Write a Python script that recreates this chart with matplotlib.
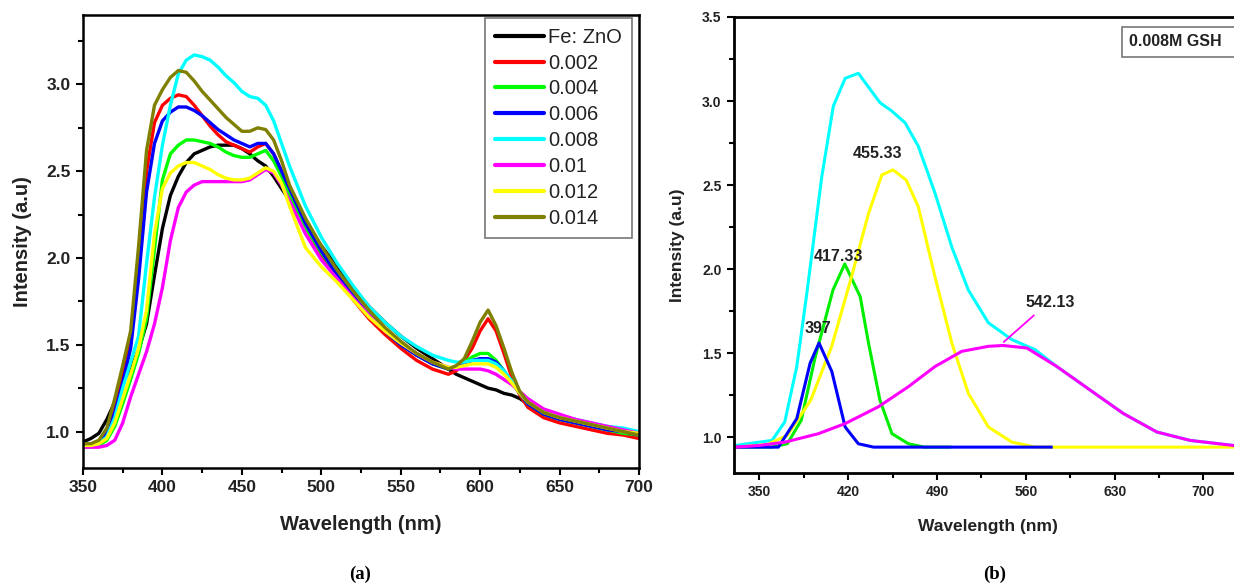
import matplotlib
matplotlib.use("Agg")
import matplotlib.pyplot as plt
from matplotlib.ticker import MultipleLocator
from matplotlib.patches import Rectangle

plt.rcParams['font.family'] = ['Liberation Sans', 'DejaVu Sans']

# ---------------- Panel (a) data ----------------
wl_a = [350, 355, 360, 365, 370, 375, 380, 385, 390, 395, 400, 405, 410, 415, 420, 425,
        430, 435, 440, 445, 450, 455, 460, 465, 470, 475, 480, 490, 500, 510, 520, 530,
        540, 550, 560, 570, 580, 585, 590, 595, 600, 605, 610, 615, 620, 625, 630, 640,
        650, 660, 670, 680, 690, 700]

fe_zno = [0.94, 0.96, 0.99, 1.07, 1.17, 1.28, 1.37, 1.47, 1.62, 1.90, 2.17, 2.36, 2.47, 2.55, 2.60, 2.62,
          2.64, 2.65, 2.65, 2.65, 2.63, 2.60, 2.56, 2.53, 2.47, 2.40, 2.33, 2.21, 2.07, 1.95, 1.83, 1.72,
          1.63, 1.55, 1.48, 1.42, 1.36, 1.33, 1.31, 1.29, 1.27, 1.25, 1.24, 1.22, 1.21, 1.19, 1.16, 1.12,
          1.09, 1.06, 1.04, 1.02, 1.00, 0.99]
s_0002 = [0.92, 0.92, 0.94, 1.00, 1.14, 1.32, 1.52, 1.98, 2.50, 2.78, 2.88, 2.92, 2.94, 2.93, 2.88, 2.82,
          2.76, 2.71, 2.67, 2.65, 2.63, 2.61, 2.64, 2.66, 2.60, 2.50, 2.38, 2.18, 2.02, 1.88, 1.76, 1.65,
          1.56, 1.48, 1.41, 1.36, 1.33, 1.35, 1.41, 1.48, 1.58, 1.65, 1.58, 1.45, 1.31, 1.21, 1.14, 1.08,
          1.05, 1.03, 1.01, 0.99, 0.98, 0.96]
s_0004 = [0.91, 0.91, 0.92, 0.95, 1.03, 1.16, 1.30, 1.45, 1.65, 2.05, 2.45, 2.60, 2.65, 2.68, 2.68, 2.67,
          2.66, 2.64, 2.61, 2.59, 2.58, 2.58, 2.60, 2.62, 2.56, 2.47, 2.37, 2.18, 2.03, 1.90, 1.78, 1.67,
          1.58, 1.50, 1.44, 1.39, 1.36, 1.37, 1.40, 1.43, 1.45, 1.45, 1.41, 1.35, 1.28, 1.22, 1.16, 1.10,
          1.07, 1.05, 1.03, 1.01, 0.99, 0.98]
s_0006 = [0.92, 0.92, 0.94, 0.99, 1.11, 1.28, 1.48, 1.88, 2.38, 2.66, 2.79, 2.84, 2.87, 2.87, 2.85, 2.82,
          2.78, 2.74, 2.71, 2.68, 2.66, 2.64, 2.66, 2.66, 2.60, 2.50, 2.40, 2.20, 2.04, 1.90, 1.78, 1.67,
          1.58, 1.50, 1.44, 1.39, 1.36, 1.37, 1.39, 1.41, 1.42, 1.42, 1.40, 1.35, 1.28, 1.22, 1.16, 1.10,
          1.07, 1.05, 1.03, 1.01, 1.00, 0.98]
s_0008 = [0.92, 0.92, 0.93, 0.97, 1.08, 1.25, 1.40, 1.55, 1.97, 2.35, 2.65, 2.88, 3.06, 3.14, 3.17, 3.16,
          3.14, 3.10, 3.05, 3.01, 2.96, 2.93, 2.92, 2.88, 2.79, 2.66, 2.53, 2.30, 2.12, 1.97, 1.84, 1.72,
          1.63, 1.55, 1.49, 1.44, 1.41, 1.40, 1.40, 1.41, 1.41, 1.41, 1.39, 1.35, 1.29, 1.23, 1.17, 1.12,
          1.09, 1.07, 1.05, 1.03, 1.02, 1.00]
s_001 = [0.91, 0.91, 0.91, 0.92, 0.95, 1.05, 1.20, 1.33, 1.46, 1.62, 1.83, 2.10, 2.29, 2.38, 2.42, 2.44,
         2.44, 2.44, 2.44, 2.44, 2.44, 2.45, 2.48, 2.51, 2.49, 2.42, 2.33, 2.14, 1.99, 1.88, 1.77, 1.67,
         1.58, 1.51, 1.45, 1.40, 1.37, 1.36, 1.36, 1.36, 1.36, 1.35, 1.33, 1.30, 1.27, 1.23, 1.19, 1.13,
         1.10, 1.07, 1.05, 1.03, 1.01, 0.99]
s_0012 = [0.92, 0.92, 0.93, 0.96, 1.05, 1.19, 1.33, 1.48, 1.70, 2.14, 2.40, 2.49, 2.53, 2.55, 2.55, 2.53,
          2.51, 2.48, 2.46, 2.45, 2.45, 2.46, 2.49, 2.52, 2.50, 2.43, 2.30, 2.06, 1.95, 1.86, 1.76, 1.66,
          1.58, 1.51, 1.45, 1.40, 1.37, 1.37, 1.38, 1.39, 1.39, 1.39, 1.37, 1.33, 1.28, 1.22, 1.17, 1.11,
          1.08, 1.06, 1.04, 1.02, 1.00, 0.99]
s_0014 = [0.93, 0.93, 0.95, 1.02, 1.19, 1.38, 1.58, 2.07, 2.62, 2.88, 2.97, 3.04, 3.08, 3.07, 3.02, 2.96,
          2.91, 2.86, 2.81, 2.77, 2.73, 2.73, 2.75, 2.74, 2.68, 2.56, 2.42, 2.23, 2.07, 1.93, 1.81, 1.70,
          1.60, 1.52, 1.45, 1.40, 1.36, 1.38, 1.42, 1.52, 1.63, 1.70, 1.61, 1.48, 1.34, 1.23, 1.17, 1.11,
          1.08, 1.06, 1.04, 1.02, 1.00, 0.98]

labels_a = ['Fe: ZnO', '0.002', '0.004', '0.006', '0.008', '0.01', '0.012', '0.014']
colors_a = ['#000000', '#ff0000', '#00ff00', '#0000ff', '#00ffff', '#ff00ff', '#ffff00', '#808000']
series_a = [fe_zno, s_0002, s_0004, s_0006, s_0008, s_001, s_0012, s_0014]

# ---------------- Panel (b) data ----------------
wl_cyan = [331, 360, 370, 379.5, 387.4, 399.2, 408.3, 417.6, 428, 445.1, 454.4, 464.9, 475.3,
           488.5, 501.7, 514.7, 530.5, 549, 567.3, 584.4, 610.6, 636.9, 663.3, 689.5, 723.4, 730]
int_cyan = [0.95, 0.98, 1.09, 1.42, 1.855, 2.55, 2.97, 3.135, 3.165, 2.99, 2.94, 2.87, 2.73,
            2.45, 2.13, 1.875, 1.68, 1.58, 1.52, 1.42, 1.28, 1.14, 1.03, 0.98, 0.95, 0.95]

wl_blue = [331, 365, 379.5, 390, 397, 407.1, 417.6, 428, 440, 580]
int_blue = [0.94, 0.94, 1.11, 1.44, 1.56, 1.39, 1.06, 0.96, 0.94, 0.94]

wl_green = [331, 360, 372, 383, 393.5, 408, 417.3, 429.5, 436, 445, 454.5, 467.5, 480, 500]
int_green = [0.94, 0.94, 0.96, 1.10, 1.46, 1.875, 2.03, 1.835, 1.56, 1.22, 1.02, 0.96, 0.94, 0.94]

wl_yellow = [331, 356, 372, 390.5, 407, 422.5, 436, 446.5, 455.3, 465.7, 475.3, 488.5, 501.7,
             514.7, 530.5, 549, 567.3, 730]
int_yellow = [0.94, 0.955, 1.01, 1.22, 1.54, 1.95, 2.33, 2.56, 2.59, 2.53, 2.37, 1.95, 1.56,
              1.26, 1.06, 0.97, 0.94, 0.94]

wl_mag = [331, 350, 370.3, 396.5, 417.6, 443.8, 467.5, 488.5, 509.5, 530.5, 542, 560.8, 584.4,
          610.6, 636.9, 663.3, 689.5, 723.4, 730]
int_mag = [0.94, 0.95, 0.97, 1.02, 1.08, 1.18, 1.30, 1.42, 1.51, 1.54, 1.545, 1.53, 1.42,
           1.28, 1.14, 1.03, 0.98, 0.95, 0.95]

peak_labels = ['397', '417.33', '455.33', '542.13']
peak_label_pos = [(396, 1.645), (412, 2.075), (443, 2.685), (579, 1.80)]

# ---------------- Figure ----------------
fig = plt.figure(figsize=(12.34, 5.83), dpi=100)

# Panel (a)
ax1 = fig.add_axes([83 / 1234, 1 - 468 / 583, (639 - 83) / 1234, (468 - 15) / 583])
for y, c, lab in zip(series_a, colors_a, labels_a):
    ax1.plot(wl_a, y, color=c, lw=2.4, label=lab, solid_joinstyle='round', solid_capstyle='round')
ax1.set_xlim(350, 700)
ax1.set_ylim(0.79, 3.4)
ax1.xaxis.set_major_locator(MultipleLocator(50))
ax1.xaxis.set_minor_locator(MultipleLocator(25))
ax1.yaxis.set_major_locator(MultipleLocator(0.5))
ax1.yaxis.set_minor_locator(MultipleLocator(0.25))
ax1.yaxis.set_major_formatter(matplotlib.ticker.FormatStrFormatter('%.1f'))
ax1.tick_params(which='both', direction='out', top=False, right=False, width=1.5)
ax1.tick_params(which='major', length=5, labelsize=12.5, pad=4)
ax1.tick_params(which='minor', length=3.5)
for lbl in ax1.get_xticklabels() + ax1.get_yticklabels():
    lbl.set_fontweight('bold')
    lbl.set_color('#222222')
for sp in ax1.spines.values():
    sp.set_linewidth(1.8)
ax1.set_xlabel('Wavelength (nm)', fontsize=14.5, fontweight='bold', labelpad=14, color='#222222')
ax1.set_ylabel('Intensity (a.u)', fontsize=14.5, fontweight='bold', labelpad=10, color='#222222')
leg = ax1.legend(loc='upper right', bbox_to_anchor=(0.988, 0.994), fontsize=14.5,
                 handlelength=2.45, handletextpad=0.2, labelspacing=0.34, borderpad=0.5,
                 borderaxespad=0.0, fancybox=False, framealpha=1)
leg.get_frame().set_edgecolor('#777777')
leg.get_frame().set_linewidth(1.2)
for t in leg.get_texts():
    t.set_color('#222222')
for h in leg.get_lines():
    h.set_linewidth(3.0)

# Panel (b)
ax2 = fig.add_axes([734 / 1234, 1 - 473 / 583, (1241.5 - 734) / 1234, (473 - 17) / 583])
ax2.plot(wl_cyan, int_cyan, color='#00ffff', lw=2.2)
ax2.plot(wl_green, int_green, color='#00ee00', lw=2.2)
ax2.plot(wl_yellow, int_yellow, color='#ffff00', lw=2.2)
ax2.plot(wl_blue, int_blue, color='#0000ff', lw=2.2)
ax2.plot(wl_mag, int_mag, color='#ff00ff', lw=2.2)
ax2.set_xlim(330, 730)
ax2.set_ylim(0.786, 3.5)
ax2.set_xticks([350, 420, 490, 560, 630, 700])
ax2.set_xticks([385, 455, 525, 595, 665], minor=True)
ax2.yaxis.set_major_locator(MultipleLocator(0.5))
ax2.yaxis.set_minor_locator(MultipleLocator(0.25))
ax2.yaxis.set_major_formatter(matplotlib.ticker.FormatStrFormatter('%.1f'))
ax2.tick_params(which='both', direction='out', top=False, right=False, width=1.5)
ax2.tick_params(which='major', length=5, labelsize=10, pad=4)
ax2.tick_params(which='minor', length=3.5)
for lbl in ax2.get_xticklabels() + ax2.get_yticklabels():
    lbl.set_fontweight('bold')
    lbl.set_color('#222222')
for sp in ax2.spines.values():
    sp.set_linewidth(2.0)
ax2.set_xlabel('Wavelength (nm)', fontsize=12.5, fontweight='bold', labelpad=14, color='#222222')
ax2.set_ylabel('Intensity (a.u)', fontsize=12.5, fontweight='bold', labelpad=12, color='#222222')

for txt, (xx, yy) in zip(peak_labels, peak_label_pos):
    ax2.text(xx, yy, txt, fontsize=11.5, fontweight='bold', ha='center', va='center', color='#222222')
ax2.annotate('', xy=(541, 1.555), xytext=(568, 1.735),
             arrowprops=dict(arrowstyle='-', color='#ff00ff', lw=1.3))

# "0.008M GSH" box (cut by the right edge, as in the reference)
fig.patches.append(Rectangle((1122 / 1234, 1 - 57 / 583), 130 / 1234, 30 / 583,
                             transform=fig.transFigure, facecolor='white', edgecolor='#777777',
                             lw=1.2, zorder=5))
fig.text(1129 / 1234, 1 - 42 / 583, '0.008M GSH', fontsize=11.5, fontweight='bold',
         ha='left', va='center', color='#222222', zorder=6)

fig.text(360 / 1234, 1 - 574 / 583, '(a)', fontsize=13.5, fontweight='bold',
         family='Liberation Serif', ha='center', va='center')
fig.text(995 / 1234, 1 - 574 / 583, '(b)', fontsize=13.5, fontweight='bold',
         family='Liberation Serif', ha='center', va='center')

fig.savefig('out.png', dpi=100)
